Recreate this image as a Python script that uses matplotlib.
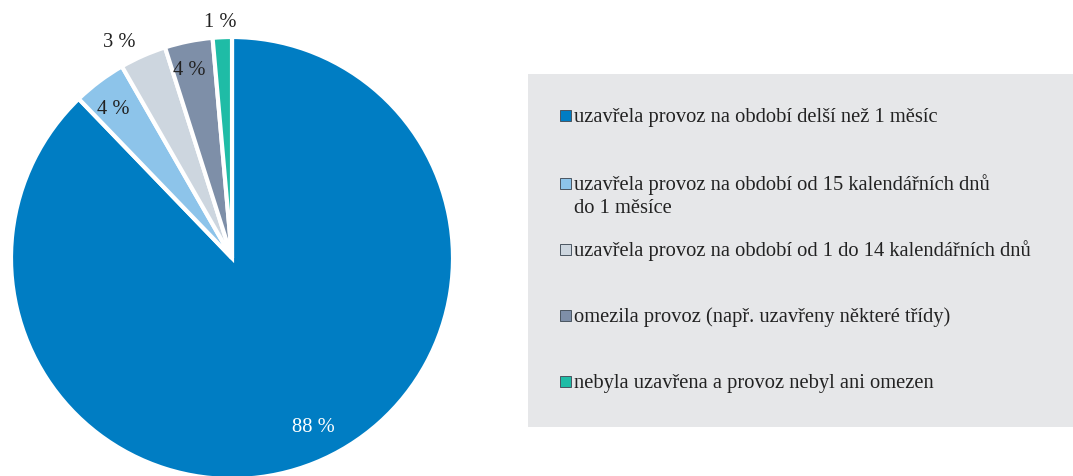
import matplotlib
matplotlib.use("Agg")
import matplotlib.pyplot as plt
from matplotlib.patches import Rectangle
import numpy as np

categories = [
    "uzavřela provoz na období delší než 1 měsíc",
    "uzavřela provoz na období od 15 kalendářních dnů\ndo 1 měsíce",
    "uzavřela provoz na období od 1 do 14 kalendářních dnů",
    "omezila provoz (např. uzavřeny některé třídy)",
    "nebyla uzavřena a provoz nebyl ani omezen",
]
values = [87.8, 3.9, 3.4, 3.5, 1.4]
labels = ["88 %", "4 %", "3 %", "4 %", "1 %"]
colors = ["#007DC3", "#8DC4EA", "#CDD6DF", "#7E8FA8", "#1FBCA6"]

plt.rcParams["font.family"] = ["Liberation Serif", "DejaVu Serif"]

W, H = 1073, 477
fig = plt.figure(figsize=(W / 100, H / 100), dpi=100)

cx, cy, r = 232, 259, 221
ax = fig.add_axes([(cx - r) / W, (H - cy - r) / H, 2 * r / W, 2 * r / H])
wedges, _ = ax.pie(values, colors=colors, startangle=90, counterclock=False,
                   wedgeprops=dict(edgecolor="white", linewidth=3))
ax.set_xlim(-1, 1)
ax.set_ylim(-1, 1)
ax.set_aspect("equal")
ax.axis("off")

# label placement (baseline anchor): (distance in radii, angle nudge in degrees, colour)
label_pos = [(0.863, 3.2, "white"), (0.847, 2.3, "#222222"), (1.087, 4.1, "#222222"),
             (0.854, 1.6, "#222222"), (1.053, 0.4, "#222222")]
cum = 0
total = sum(values)
for v, lab, (d, nudge, col) in zip(values, labels, label_pos):
    mid = 90 - (cum + v / 2) / total * 360 + nudge
    cum += v
    th = np.deg2rad(mid)
    ax.text(d * np.cos(th), d * np.sin(th), lab, ha="center", va="baseline",
            fontsize=14.8, color=col, clip_on=False)

# legend panel
lx0, ly0, lx1, ly1 = 528, 75, 1073, 428
lax = fig.add_axes([lx0 / W, (H - ly1) / H, (lx1 - lx0) / W, (ly1 - ly0) / H])
lax.set_xlim(lx0, lx1)
lax.set_ylim(ly1, ly0)
lax.axis("off")
lax.add_patch(Rectangle((lx0, ly0), lx1 - lx0, ly1 - ly0, facecolor="#E6E7E9", edgecolor="none"))
baselines = [122, 190, 256, 322, 388]
for cat, col, yb in zip(categories, colors, baselines):
    lax.add_patch(Rectangle((560, yb - 11.5), 11, 11, facecolor=col, edgecolor="#4a5560", linewidth=0.7))
    for i, line in enumerate(cat.split("\n")):
        lax.text(574, yb + i * 23, line, ha="left", va="baseline",
                 fontsize=14.8, color="#222222")

fig.savefig("out.png", dpi=100)
